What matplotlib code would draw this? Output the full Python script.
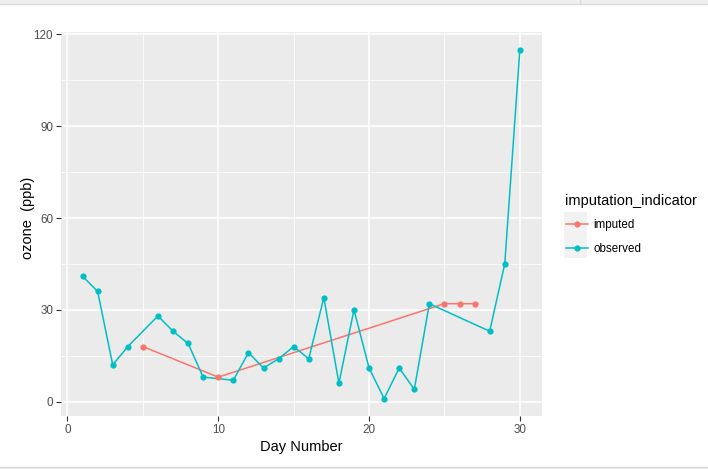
import numpy as np
import matplotlib
matplotlib.use("Agg")
import matplotlib.pyplot as plt
from matplotlib.lines import Line2D
from matplotlib.patches import Rectangle

# airquality, May, ozone (ppb); NA days filled by last observation carried forward
obs_day = [1, 2, 3, 4, 6, 7, 8, 9, 11, 12, 13, 14, 15, 16, 17, 18, 19, 20,
           21, 22, 23, 24, 28, 29, 30]
obs_ozone = [41, 36, 12, 18, 28, 23, 19, 8, 7, 16, 11, 14, 18, 14, 34, 6, 30, 11,
             1, 11, 4, 32, 23, 45, 115]
imp_day = [5, 10, 25, 26, 27]
imp_ozone = [18, 8, 32, 32, 32]

groups = ['imputed', 'observed']
colors = {'imputed': '#F8766D', 'observed': '#00BFC4'}

plt.rcParams['font.family'] = ['Liberation Sans', 'DejaVu Sans']

W, H = 708, 469
fig = plt.figure(figsize=(W / 100, H / 100), dpi=100)

# panel in pixel coords
px_l, px_r, px_t, px_b = 60.7, 541.7, 32.3, 416.0
ax = fig.add_axes([px_l / W, 1 - px_b / H, (px_r - px_l) / W, (px_b - px_t) / H])
ax.set_facecolor('#EBEBEB')

# lines first, then points (ggplot layer order)
ax.plot(imp_day, imp_ozone, color=colors['imputed'], lw=1.1, zorder=3)
ax.plot(obs_day, obs_ozone, color=colors['observed'], lw=1.1, zorder=3)
ax.plot(imp_day, imp_ozone, 'o', color=colors['imputed'], ms=4.5, mew=0, zorder=4)
ax.plot(obs_day, obs_ozone, 'o', color=colors['observed'], ms=4.5, mew=0, zorder=4)

# ggplot-like expansion
xs = obs_day + imp_day
ys = obs_ozone + imp_ozone
xr = max(xs) - min(xs)
yr = max(ys) - min(ys)
ax.set_xlim(min(xs) - 0.05 * xr, max(xs) + 0.05 * xr)
ax.set_ylim(min(ys) - 0.05 * yr, max(ys) + 0.05 * yr)

ax.set_xticks([0, 10, 20, 30])
ax.set_yticks([0, 30, 60, 90, 120])
ax.set_xticks([5, 15, 25], minor=True)
ax.set_yticks([15, 45, 75, 105], minor=True)
ax.grid(which='major', color='white', lw=1.1)
ax.grid(which='minor', color='white', lw=0.55)
ax.set_axisbelow(True)
for s in ax.spines.values():
    s.set_visible(False)
ax.tick_params(which='major', length=3.5, width=0.8, color='#333333',
               labelcolor='#4D4D4D', labelsize=8.4, pad=2)
ax.tick_params(which='minor', length=0)

ax.set_xlabel('Day Number', fontsize=10.5, labelpad=3)
ax.set_ylabel('ozone  (ppb)', fontsize=10.5)
ax.yaxis.set_label_coords(35 / W, 1 - 218 / H, transform=fig.transFigure)

# legend
handles = [Line2D([0], [0], color=colors[g], lw=1.1, marker='o', ms=4.5, mew=0)
           for g in groups]
fig.add_artist(Rectangle((564 / W, 1 - 258 / H), 23 / W, 46 / H,
                         transform=fig.transFigure, facecolor='#F2F2F2',
                         edgecolor='none', zorder=0))
leg = fig.legend(handles, groups, loc='upper left',
                 bbox_to_anchor=(555 / W, 1 - 183 / H), frameon=False,
                 title='imputation_indicator', title_fontsize=10.5, fontsize=8.4,
                 handlelength=1.9, handletextpad=0.5, labelspacing=1.0,
                 alignment='left')

# screenshot chrome top and bottom
fig.add_artist(Rectangle((0, 1 - 4 / H), 1, 4 / H, transform=fig.transFigure,
                         facecolor='#F0F0F0', edgecolor='none'))
fig.add_artist(Line2D([0, 1], [1 - 4.5 / H] * 2, transform=fig.transFigure,
                      color='#D9D9D9', lw=1))
fig.add_artist(Line2D([580 / W] * 2, [1 - 4 / H, 1], transform=fig.transFigure,
                      color='#D9D9D9', lw=1))
fig.add_artist(Rectangle((0, 0), 1, 1.5 / H, transform=fig.transFigure,
                         facecolor='#F0F0F0', edgecolor='none'))
fig.add_artist(Line2D([0, 1], [1.8 / H] * 2, transform=fig.transFigure,
                      color='#D9D9D9', lw=1))

fig.savefig('out.png', dpi=100)
